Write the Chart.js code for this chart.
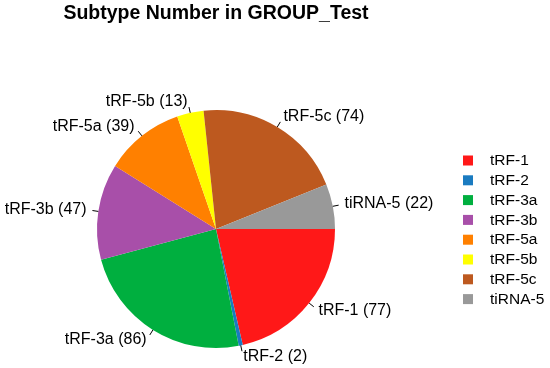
<!DOCTYPE html>
<html>
<head>
<meta charset="utf-8">
<script src="https://cdn.jsdelivr.net/npm/chart.js@4"></script>
<style>
html,body{margin:0;padding:0;background:#fff;}
#wrap{width:550px;height:368px;position:relative;}
</style>
</head>
<body>
<div id="wrap"><canvas id="c" width="550" height="368"></canvas></div>
<script>
const titleText = "Subtype Number in GROUP_Test";
const categories = ["tRF-1","tRF-2","tRF-3a","tRF-3b","tRF-5a","tRF-5b","tRF-5c","tiRNA-5"];
const counts = [77, 2, 86, 47, 39, 13, 74, 22];
const colors = ["#FF1818","#1A7BC0","#00AF3F","#A84FA9","#FF8000","#FFFF00","#BD591F","#999999"];

const FONT = "'Liberation Sans', Arial, Helvetica, sans-serif";

const pieLabels = {
  id: "pieLabels",
  afterDatasetsDraw(chart) {
    const ctx = chart.ctx;
    const meta = chart.getDatasetMeta(0);
    ctx.save();
    ctx.font = "16px " + FONT;
    ctx.fillStyle = "#000";
    ctx.strokeStyle = "#000";
    ctx.lineWidth = 1;
    ctx.textBaseline = "middle";
    meta.data.forEach((arc, i) => {
      const p = arc.getProps(["x","y","startAngle","endAngle","outerRadius"], true);
      const a = (p.startAngle + p.endAngle) / 2;
      const c = Math.cos(a), s = Math.sin(a);
      const r = p.outerRadius;
      ctx.beginPath();
      ctx.moveTo(p.x + c * r, p.y + s * r);
      ctx.lineTo(p.x + c * r * 1.05, p.y + s * r * 1.05);
      ctx.stroke();
      ctx.textAlign = c < 0 ? "right" : "left";
      ctx.fillText(categories[i] + " (" + counts[i] + ")", p.x + c * r * 1.1, p.y + s * r * 1.1);
    });
    ctx.restore();
  }
};

const customLegendAndTitle = {
  id: "customLegendAndTitle",
  afterDraw(chart) {
    const ctx = chart.ctx;
    ctx.save();
    // title centred over the pie
    const cx = (chart.chartArea.left + chart.chartArea.right) / 2;
    ctx.font = "bold 19.5px " + FONT;
    ctx.fillStyle = "#000";
    ctx.textAlign = "center";
    ctx.textBaseline = "middle";
    ctx.fillText(titleText, cx, 14);
    // legend
    ctx.font = "15.5px " + FONT;
    ctx.textAlign = "left";
    const x0 = 463, y0 = 160.5, step = 19.8, sz = 10;
    categories.forEach((name, i) => {
      const y = y0 + i * step;
      ctx.fillStyle = colors[i];
      ctx.fillRect(x0, y - sz / 2, sz, sz);
      ctx.fillStyle = "#000";
      ctx.fillText(name, 490, y + 0.5);
    });
    ctx.restore();
  }
};

new Chart(document.getElementById("c"), {
  type: "pie",
  data: {
    labels: categories,
    datasets: [{
      data: counts,
      backgroundColor: colors,
      borderWidth: 0,
      hoverOffset: 0
    }]
  },
  options: {
    responsive: false,
    animation: false,
    rotation: 90,
    layout: { padding: { top: 110, left: 97, right: 215, bottom: 20 } },
    plugins: {
      legend: { display: false },
      tooltip: { enabled: false },
      title: { display: false }
    }
  },
  plugins: [pieLabels, customLegendAndTitle]
});
</script>
</body>
</html>
